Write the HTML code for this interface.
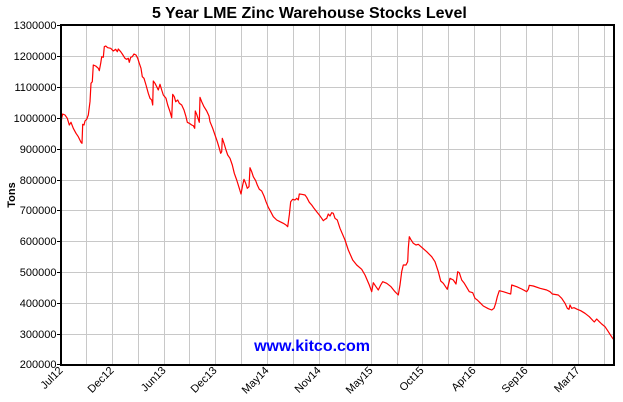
<!DOCTYPE html>
<html>
<head>
<meta charset="utf-8">
<style>
html,body{margin:0;padding:0;background:#fff;}
svg{display:block;}
text{font-family:"Liberation Sans",Arial,sans-serif;}
</style>
</head>
<body>
<svg width="623" height="402" viewBox="0 0 623 402" xmlns="http://www.w3.org/2000/svg">
<rect x="0" y="0" width="623" height="402" fill="#fff"/>
<text x="152" y="18" font-size="16" font-weight="bold" fill="#000">5 Year LME Zinc Warehouse Stocks Level</text>

<g stroke="#c8c8c8" stroke-width="1" shape-rendering="crispEdges">
<line x1="86.5" y1="25" x2="86.5" y2="365"/>
<line x1="112.5" y1="25" x2="112.5" y2="365"/>
<line x1="138.5" y1="25" x2="138.5" y2="365"/>
<line x1="164.5" y1="25" x2="164.5" y2="365"/>
<line x1="189.5" y1="25" x2="189.5" y2="365"/>
<line x1="215.5" y1="25" x2="215.5" y2="365"/>
<line x1="241.5" y1="25" x2="241.5" y2="365"/>
<line x1="267.5" y1="25" x2="267.5" y2="365"/>
<line x1="293.5" y1="25" x2="293.5" y2="365"/>
<line x1="319.5" y1="25" x2="319.5" y2="365"/>
<line x1="345.5" y1="25" x2="345.5" y2="365"/>
<line x1="371.5" y1="25" x2="371.5" y2="365"/>
<line x1="397.5" y1="25" x2="397.5" y2="365"/>
<line x1="422.5" y1="25" x2="422.5" y2="365"/>
<line x1="448.5" y1="25" x2="448.5" y2="365"/>
<line x1="474.5" y1="25" x2="474.5" y2="365"/>
<line x1="500.5" y1="25" x2="500.5" y2="365"/>
<line x1="526.5" y1="25" x2="526.5" y2="365"/>
<line x1="552.5" y1="25" x2="552.5" y2="365"/>
<line x1="578.5" y1="25" x2="578.5" y2="365"/>
<line x1="604.5" y1="25" x2="604.5" y2="365"/>
<line x1="61" y1="56.5" x2="614" y2="56.5"/>
<line x1="61" y1="87.5" x2="614" y2="87.5"/>
<line x1="61" y1="118.5" x2="614" y2="118.5"/>
<line x1="61" y1="149.5" x2="614" y2="149.5"/>
<line x1="61" y1="180.5" x2="614" y2="180.5"/>
<line x1="61" y1="210.5" x2="614" y2="210.5"/>
<line x1="61" y1="241.5" x2="614" y2="241.5"/>
<line x1="61" y1="272.5" x2="614" y2="272.5"/>
<line x1="61" y1="303.5" x2="614" y2="303.5"/>
<line x1="61" y1="334.5" x2="614" y2="334.5"/>
</g>

<text x="312" y="351" font-size="16" font-weight="bold" fill="#0000ff" text-anchor="middle">www.kitco.com</text>

<polyline fill="none" stroke="#ff0000" stroke-width="1.2" stroke-linejoin="round" points="61,125 61.7,118 62.7,114 65,115 67.3,118.3 69.3,125 71,122.3 73.3,128.3 76,133.3 78.3,136.7 81,142.3 82,143.3 82.7,124.3 84,125 85,121 86.7,119.3 88.3,115 90,101.7 91,83.3 92.3,81.7 93.3,65 95.7,66 98.3,68.3 99.3,70.7 100.7,63.3 101.7,56.7 103.3,57.3 104.3,46.7 105.7,46 107.7,47.7 110.7,48.3 113.3,51 115.7,49.3 117.3,51.7 118.3,49 120.7,51.7 122.3,54 125,58.3 126.7,59.3 128.3,58.3 129.3,62.3 130.7,57.3 132.3,56.7 134,54 136,55 137.7,58.3 139.3,63.3 141,68.3 142.3,76.7 144,78.3 146,85 148.3,93.3 150,98.3 151.7,100 152.7,105 153.3,81 155,83.3 156.7,86.7 158.3,90 160,84.3 161.7,90 163.3,95 166,98.3 167.7,105 170,111.7 171.7,117.7 172.7,94.3 174.3,96.7 175.7,101.7 177.7,100 179.3,103.3 181.7,105 184,110 186,116.7 187.3,122.3 189.3,123.3 191.7,125 193.3,125.7 194.7,128.3 195.3,111 196.7,114.3 198,118.3 199.3,122.3 200,97.3 201.7,101.7 204,106.7 206.7,111 209,116 210,121.7 212.7,128.3 215,135 217.3,141.7 219.3,148.3 220.7,153.3 221.7,151.7 222.3,138.3 224,143.3 226,150 227.7,155 230,158.3 232.3,165 234.3,173.3 236.7,180 239.3,188.3 241,194 242.7,185 244,179.3 245.7,183.3 247.3,188.3 249,186.7 250,167.7 251.7,171.7 253.3,176.7 255.7,180.7 257.3,185 259.3,189.3 261.7,191 264,196 266,201.7 268.3,207.3 270.7,211.7 273.3,216.7 276.7,220 280,221.7 283.3,223.3 286,225 287.7,226.7 289.3,215 290.7,201.7 292.7,199.3 295,200 296.7,198.3 298.3,200 299.3,194 301.7,194.3 305,195 306.7,197.3 309.3,202.3 311.7,205 314,208.3 316.7,211.7 319.3,215 321.7,218.3 323.3,220.7 325,219.3 326.7,218.3 328.3,214 330,216 331.7,212.7 333.3,213.3 335,218.3 337.3,220 340,228.3 345,240 348.3,250 352.7,260 356.7,265 361.7,269.3 365,275 369.3,285 371.7,291.7 373.3,282.7 376,286.7 378.3,290 380.7,285 382.7,281.7 386.7,283.3 391,286.7 395,291.7 398.3,295 400,285 401.7,271.7 403.3,265 406,265 407.7,261.7 408.3,248.3 409.3,236.7 410.7,239.3 413.3,243.3 416,245 418.3,244.3 421.7,247.3 426.7,251.7 431.7,256.7 435,261.7 438.3,271.7 440.7,281 443.3,283.3 447.3,289.3 450,278.3 453.3,280 456,284 457.7,271.7 459.3,272.7 461.7,280 464.3,283.3 466.7,287.3 469.3,291.7 472.7,292.7 475,298.3 477.3,300 480,302.7 483.3,306 488.3,308.7 491.7,310 494,308.3 495.7,303.3 497.3,296.7 499.3,290.7 503.3,291.7 508.3,293.3 510.7,294 511.7,285 516.7,286.7 521.7,289 526.7,291.7 528.3,289.3 529.3,285.3 533.3,286 540,288.3 546.7,290 550,291.7 552.3,294 558.3,295 561.7,298.3 565,303.3 567.3,308.3 569,309.3 570,305 571.7,308.3 574,307.7 577.3,309.3 580.7,310.7 585,313.3 589.3,316.7 593.3,321 594.3,322 596.7,319 599.3,321.7 601.7,324 605,326.7 607.7,330.7 610,334.3 612.7,338.3 614,340"/>

<rect x="61" y="25" width="553" height="340" fill="none" stroke="#000" stroke-width="2"/>

<g stroke="#000" stroke-width="1" shape-rendering="crispEdges">
<line x1="57" y1="25.5" x2="61" y2="25.5"/>
<line x1="57" y1="56.5" x2="61" y2="56.5"/>
<line x1="57" y1="87.5" x2="61" y2="87.5"/>
<line x1="57" y1="118.5" x2="61" y2="118.5"/>
<line x1="57" y1="149.5" x2="61" y2="149.5"/>
<line x1="57" y1="180.5" x2="61" y2="180.5"/>
<line x1="57" y1="210.5" x2="61" y2="210.5"/>
<line x1="57" y1="241.5" x2="61" y2="241.5"/>
<line x1="57" y1="272.5" x2="61" y2="272.5"/>
<line x1="57" y1="303.5" x2="61" y2="303.5"/>
<line x1="57" y1="334.5" x2="61" y2="334.5"/>
<line x1="57" y1="364.5" x2="61" y2="364.5"/>
</g>

<g font-size="11" fill="#000" text-anchor="end">
<text x="56.5" y="29">1300000</text>
<text x="56.5" y="60">1200000</text>
<text x="56.5" y="91">1100000</text>
<text x="56.5" y="122">1000000</text>
<text x="56.5" y="153">900000</text>
<text x="56.5" y="184">800000</text>
<text x="56.5" y="214">700000</text>
<text x="56.5" y="245">600000</text>
<text x="56.5" y="276">500000</text>
<text x="56.5" y="307">400000</text>
<text x="56.5" y="338">300000</text>
<text x="56.5" y="368">200000</text>
</g>

<text transform="translate(15,195) rotate(-90)" font-size="11" font-weight="bold" text-anchor="middle" fill="#000">Tons</text>

<g font-size="11" fill="#000" text-anchor="end">
<text transform="translate(63.5,371) rotate(-45)">Jul12</text>
<text transform="translate(114.5,371) rotate(-45)">Dec12</text>
<text transform="translate(166.5,371) rotate(-45)">Jun13</text>
<text transform="translate(217.5,371) rotate(-45)">Dec13</text>
<text transform="translate(269.5,371) rotate(-45)">May14</text>
<text transform="translate(321.5,371) rotate(-45)">Nov14</text>
<text transform="translate(373.5,371) rotate(-45)">May15</text>
<text transform="translate(424.5,371) rotate(-45)">Oct15</text>
<text transform="translate(476.5,371) rotate(-45)">Apr16</text>
<text transform="translate(528.5,371) rotate(-45)">Sep16</text>
<text transform="translate(580.5,371) rotate(-45)">Mar17</text>
</g>
</svg>
</body>
</html>
